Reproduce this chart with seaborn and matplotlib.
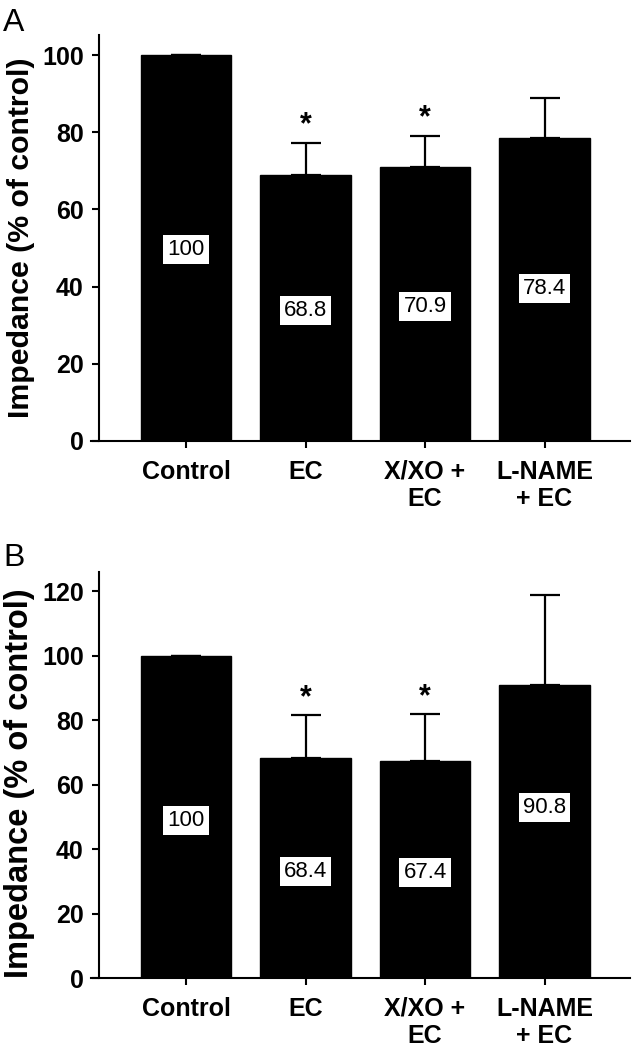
import matplotlib
matplotlib.use('Agg')
import matplotlib.pyplot as plt
import seaborn as sns

sns.set_style("ticks")
plt.rcParams['font.family'] = ['Liberation Sans', 'DejaVu Sans']
plt.rcParams.update({'text.color': 'black', 'axes.labelcolor': 'black',
                     'xtick.color': 'black', 'ytick.color': 'black',
                     'axes.edgecolor': 'black'})

groups = ['Control', 'EC', 'X/XO +\nEC', 'L-NAME\n+ EC']

# panel A
imp_a = [100, 68.8, 70.9, 78.4]
err_a = [0, 8.4, 8.1, 10.5]
sig_a = [False, True, True, False]
lab_y_a = [49.5, 33.9, 34.8, 39.6]

# panel B
imp_b = [100, 68.4, 67.4, 90.8]
err_b = [0, 13.1, 14.5, 28.0]
sig_b = [False, True, True, False]
lab_y_b = [49.0, 33.0, 32.8, 53.0]

W, H = 635, 1046
fig = plt.figure(figsize=(W / 100, H / 100), dpi=100)


def panel(ax, vals, errs, sig, lab_y, ymax, yticks, star_off, ylab_size, ylab_y):
    sns.barplot(x=groups, y=vals, color='black', edgecolor='black',
                width=0.76, errorbar=None, ax=ax, saturation=1)
    xs = range(len(vals))
    ax.errorbar(list(xs), vals, yerr=[[0] * len(errs), errs], fmt='none',
                ecolor='black', elinewidth=1.6, capsize=10.8, capthick=1.6)
    for x, v, e, s, ly in zip(xs, vals, errs, sig, lab_y):
        ax.text(x, ly, f'{v:g}', ha='center', va='center', fontsize=16,
                bbox=dict(boxstyle='square,pad=0.18', fc='white', ec='none'))
        if s:
            ax.text(x, v + e + star_off, '*', ha='center', va='center',
                    fontsize=22, fontweight='bold')
    ax.set_xlim(-0.795, 3.715)
    ax.set_ylim(0, ymax)
    ax.set_yticks(yticks)
    ax.spines['left'].set_position(('data', -0.728))
    ax.spines['left'].set_bounds(0, ymax)
    sns.despine(ax=ax)
    for sp in ['left', 'bottom']:
        ax.spines[sp].set_linewidth(1.5)
    ax.tick_params(axis='both', width=1.5, length=5, labelsize=18)
    ax.tick_params(axis='x', pad=8.5)
    ax.tick_params(axis='y', pad=6)
    for t in ax.get_xticklabels():
        t.set_fontweight('bold')
        t.set_linespacing(1.15)
    for t in ax.get_yticklabels():
        t.set_fontweight('bold')
    ax.set_xlabel('')
    ax.set_ylabel('Impedance (% of control)', fontsize=ylab_size,
                  fontweight='bold')
    ax.yaxis.set_label_coords(-0.104, ylab_y)


left = 91 / W
width = (630 - 91) / W
ax_a = fig.add_axes([left, 1 - 441 / H, width, (441 - 35) / H])
panel(ax_a, imp_a, err_a, sig_a, lab_y_a, 105.2, [0, 20, 40, 60, 80, 100],
      4.6, 21.8, 0.5)

ax_b = fig.add_axes([left, 1 - 978 / H, width, (978 - 572) / H])
panel(ax_b, imp_b, err_b, sig_b, lab_y_b, 126.0, [0, 20, 40, 60, 80, 100, 120],
      5.3, 23.5, 0.48)

fig.text(3 / W, 1 - 8 / H, 'A', fontsize=23, va='top', ha='left')
fig.text(3 / W, 1 - 543 / H, 'B', fontsize=23, va='top', ha='left')

fig.savefig('out.png', dpi=100)
